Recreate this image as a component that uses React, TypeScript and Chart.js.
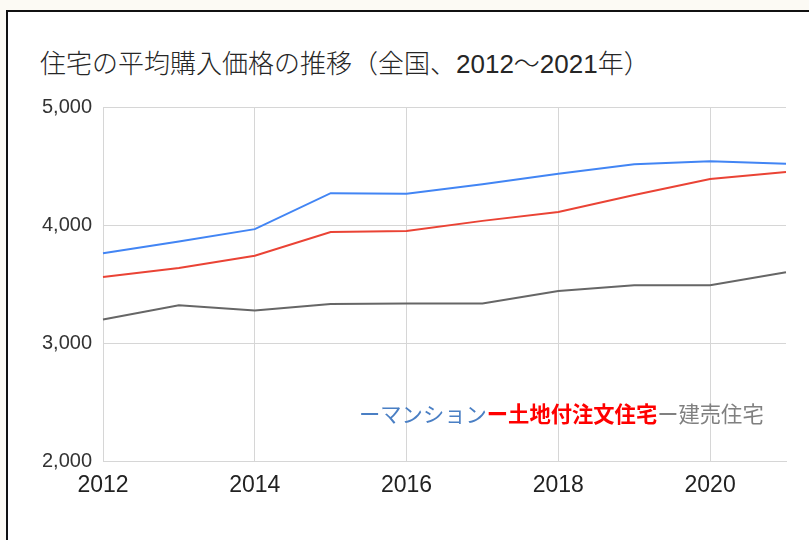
import React, { useEffect, useRef } from "react";
import { Chart, registerables } from "chart.js";

Chart.register(...registerables);

const TITLE = "住宅の平均購入価格の推移（全国、2012～2021年）";
const years = ["2012", "2013", "2014", "2015", "2016", "2017", "2018", "2019", "2020", "2021"];
const mansion = [3760, 3860, 3965, 4270, 4265, 4345, 4435, 4515, 4540, 4520];
const chumon = [3560, 3635, 3740, 3940, 3950, 4035, 4110, 4255, 4390, 4450];
const tateuri = [3200, 3320, 3275, 3330, 3335, 3335, 3440, 3490, 3490, 3600];
const seriesNames = ["マンション", "土地付注文住宅", "建売住宅"];
const lineColors = ["#4285f4", "#ea4335", "#666666"];
const legendColors = ["#4a7fc4", "#ff0000", "#808080"];
const yTicks = [2000, 3000, 4000, 5000];

const FONT = '"Liberation Sans", Arial, "Noto Sans CJK JP", sans-serif';
const GRID = "#d6d6d6";

export default function App() {
  const ref = useRef<HTMLCanvasElement | null>(null);

  useEffect(() => {
    if (!ref.current) return;
    const chart = new Chart(ref.current, {
      type: "line",
      data: {
        labels: years,
        datasets: [mansion, chumon, tateuri].map((d, i) => ({
          label: seriesNames[i],
          data: d,
          borderColor: lineColors[i],
          backgroundColor: lineColors[i],
          borderWidth: 2,
          pointRadius: 0,
          tension: 0,
          fill: false,
        })),
      },
      options: {
        responsive: false,
        animation: false,
        devicePixelRatio: 1,
        layout: { padding: { left: 0, top: 107, right: 23, bottom: 0 } },
        plugins: {
          legend: { display: false },
          title: { display: false },
          tooltip: { enabled: false },
        },
        scales: {
          x: {
            type: "category",
            offset: false,
            afterFit: (s: any) => {
              s.height = 79;
            },
            grid: {
              drawTicks: false,
              color: (c: any) => (c.index % 2 === 0 ? GRID : "rgba(0,0,0,0)"),
            },
            border: { color: GRID },
            ticks: {
              autoSkip: false,
              maxRotation: 0,
              padding: 11,
              color: "#222",
              font: { family: FONT, size: 23 },
              callback: (_v: any, i: number) => (i % 2 === 0 ? years[i] : ""),
            },
          },
          y: {
            min: yTicks[0],
            max: yTicks[yTicks.length - 1],
            afterFit: (s: any) => {
              s.width = 103;
            },
            afterBuildTicks: (s: any) => {
              s.ticks = yTicks.map((v) => ({ value: v }));
            },
            grid: { drawTicks: false, color: GRID },
            border: { color: GRID },
            ticks: {
              padding: 11,
              color: "#333",
              font: { family: FONT, size: 20 },
              callback: (v: any) => Number(v).toLocaleString("en-US"),
            },
          },
        },
      },
    });
    return () => chart.destroy();
  }, []);

  return (
    <div
      style={{
        position: "fixed",
        left: 0,
        top: 0,
        width: 809,
        height: 540,
        background: "#fcfaf4",
        overflow: "hidden",
        fontFamily: FONT,
      }}
    >
      <div
        style={{
          position: "absolute",
          left: 6,
          top: 10,
          width: 900,
          height: 700,
          background: "#fff",
          borderLeft: "2px solid #111",
          borderTop: "2px solid #111",
        }}
      />
      <div
        style={{
          position: "absolute",
          left: 40,
          top: 51,
          fontSize: 26,
          lineHeight: 1,
          color: "#262626",
          whiteSpace: "nowrap",
          fontWeight: 300,
        }}
      >
        {TITLE}
      </div>
      <canvas
        ref={ref}
        width={809}
        height={540}
        style={{ position: "absolute", left: 0, top: 0, width: 809, height: 540 }}
      />
      <div
        style={{
          position: "absolute",
          left: 359,
          top: 402,
          fontSize: 21.3,
          lineHeight: 1,
          whiteSpace: "nowrap",
          fontFamily: '"Noto Sans CJK JP", sans-serif',
        }}
      >
        {seriesNames.map((n, i) => (
          <span key={n} style={{ color: legendColors[i], fontWeight: i === 1 ? 700 : 400 }}>
            {"ー" + n}
          </span>
        ))}
      </div>
    </div>
  );
}
